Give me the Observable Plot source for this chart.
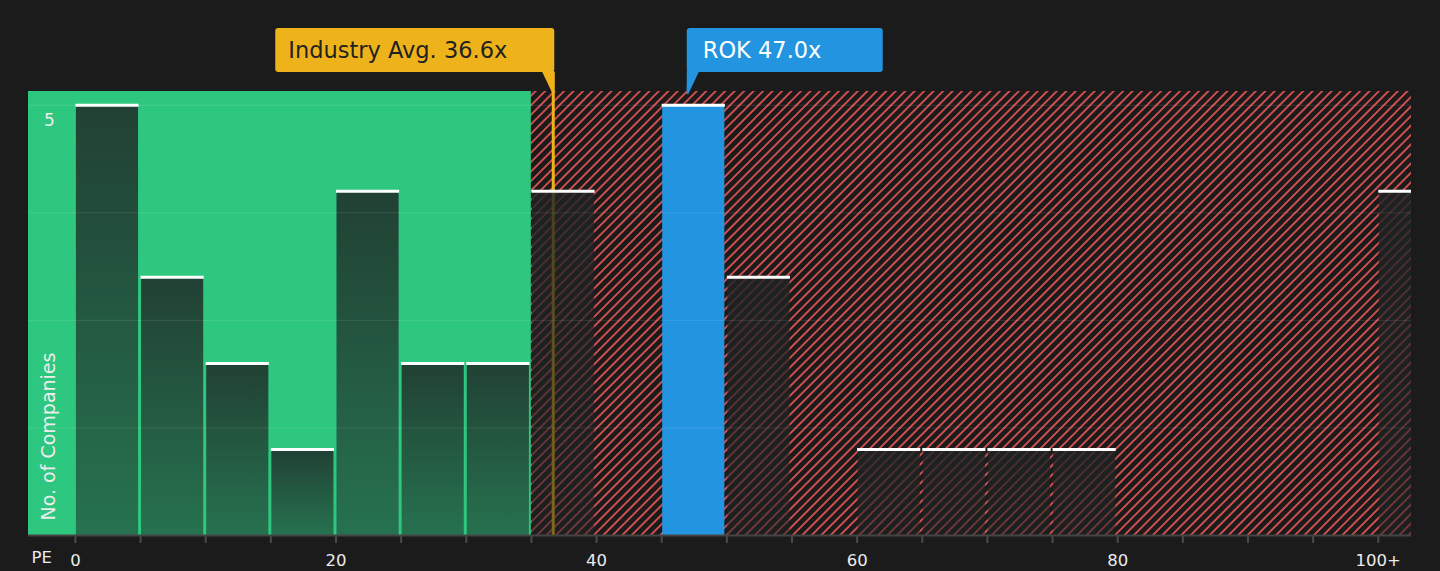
<!DOCTYPE html>
<html><head><meta charset="utf-8">
<script src="https://cdn.jsdelivr.net/npm/d3@7"></script>
<script src="https://cdn.jsdelivr.net/npm/@observablehq/plot@0.6"></script>
<style>
html,body{margin:0;padding:0;background:#1b1b1b;}
#chart{position:relative;width:1440px;height:571px;}
#chart svg [aria-label="x-axis tick"]{stroke:#4a4a4a;stroke-width:2px;}
#chart svg [aria-label="x-axis tick label"]{font-size:16.5px;}
</style></head><body>
<svg width="0" height="0" style="position:absolute">
<defs>
<pattern id="hatch" patternUnits="userSpaceOnUse" width="6.7" height="6.7" patternTransform="rotate(45)">
<rect width="6.7" height="6.7" fill="#1b1b1b"/>
<line x1="1" y1="-1" x2="1" y2="8" stroke="#dc5252" stroke-width="1.8"/>
</pattern>
<linearGradient id="barGrad" x1="0" y1="0" x2="0" y2="1">
<stop offset="0" stop-color="#1e2323" stop-opacity="0.82"/>
<stop offset="1" stop-color="#1e2323" stop-opacity="0.52"/>
</linearGradient>
</defs></svg>
<div id="chart"></div>
<script>
// ---- data ----
const binStart = [0,5,10,15,20,25,30,35,40,45,50,55,60,65,70,75,80,85,90,95,100];
const binCount = [5,3,2,1,4,2,2,4,0,5,3,0,1,1,1,1,0,0,0,0,4];
const binWidth = 5;
const companyName = "ROK";
const companyValue = 47.0;
const industryAvg = 36.6;
const fairBreak = 35;
const xDomain = [-3.6, 102.55];
const yDomain = [0, 5.16];
const gridTicks = [1.25, 2.5, 3.75, 5];
const yLabelTicks = [5];
const xTickValues = [0,5,10,15,20,25,30,35,40,45,50,55,60,65,70,75,80,85,90,95,100];
const xLabelValues = [0,20,40,60,80,100];
const xLabelTexts = ["0","20","40","60","80","100+"];

const green = "#2ec77f", blue = "#2394e0", gold = "#eeb31a";

const bins = binStart.map((s,i)=>({x1:s, x2:s+binWidth, count:binCount[i],
  own: companyValue>=s && companyValue<s+binWidth})).filter(d=>d.count>0);
const ownBin = bins.filter(d=>d.own);
const otherBins = bins.filter(d=>!d.own);
const regions = [{x1:xDomain[0], x2:fairBreak}];
const hatchRegions = [{x1:fairBreak, x2:xDomain[1]}];

const chart = Plot.plot({
  width:1440, height:571,
  marginLeft:28, marginRight:29, marginTop:91, marginBottom:36,
  style:{background:"#1b1b1b", color:"#ececec", fontFamily:"DejaVu Sans", fontSize:"16.5px"},
  x:{domain:xDomain, ticks:xTickValues, tickSize:8, tickPadding:11,
     tickFormat:d=>{const i=xLabelValues.indexOf(d); return i<0?"":xLabelTexts[i];}, label:null},
  y:{domain:yDomain, axis:null},
  marks:[
    Plot.rect(regions,{x1:"x1",x2:"x2",fill:green}),
    Plot.rect(hatchRegions,{x1:"x1",x2:"x2",fill:"url(#hatch)"}),
    Plot.ruleX([industryAvg],{stroke:gold,strokeWidth:3,insetTop:-19,dx:1}),
    Plot.rect(otherBins,{x1:"x1",x2:"x2",y1:0,y2:"count",fill:"url(#barGrad)",insetLeft:1,insetRight:2,clip:true}),
    Plot.rect(ownBin,{x1:"x1",x2:"x2",y1:0,y2:"count",fill:blue,insetLeft:1,insetRight:2,clip:true}),
    Plot.ruleY(gridTicks,{stroke:"#ffffff",strokeOpacity:0.1,strokeWidth:1}),
    Plot.ruleY(bins,{y:"count",x1:"x1",x2:"x2",stroke:"#ffffff",strokeWidth:3,insetLeft:0.5,insetRight:1.5,clip:true}),
    Plot.ruleX([companyValue],{y1:ownBin.length?ownBin[0].count:0,y2:yDomain[1],insetTop:-19,stroke:blue,strokeWidth:2}),
    Plot.ruleY([0],{stroke:"#444",strokeWidth:2}),
    Plot.text(yLabelTicks,{y:d=>d,text:d=>String(d),frameAnchor:"left",textAnchor:"middle",dx:21,dy:15,fill:"#ececec",fontSize:17}),
    Plot.text(["No. of Companies"],{frameAnchor:"bottom-left",text:d=>d,rotate:-90,textAnchor:"start",lineAnchor:"middle",dx:20,dy:-15,fill:"#ececec",fontSize:19}),
    Plot.text(["PE"],{frameAnchor:"bottom-left",text:d=>d,textAnchor:"start",dx:3,dy:27,fill:"#ececec",fontSize:16.5})
  ]
});
document.getElementById("chart").appendChild(chart);

// ---- callouts positioned from the x scale ----
const xs = chart.scale("x");
const svg = d3.select(chart);
const boxTop = 28, boxH = 44, tailLen = 22;
function callout(xv, text, fill, color, side, w){
  const px = xs.apply(xv);
  const g = svg.append("g");
  const bx = side==="left" ? px+2.5-w : px-0.5;
  g.append("rect").attr("x",bx).attr("y",boxTop).attr("width",w).attr("height",boxH).attr("rx",3).attr("fill",fill);
  const yb = boxTop+boxH;
  const pts = side==="left"
    ? [[px-10,yb-1],[px+2.5,yb-1],[px+2.5,yb+tailLen],[px+1,yb+tailLen]]
    : [[px-0.5,yb-1],[px+12,yb-1],[px+1,yb+tailLen],[px-0.5,yb+tailLen]];
  g.append("polygon").attr("points",pts.map(p=>p.join(",")).join(" ")).attr("fill",fill);
  g.append("text").attr("x",side==="left"?bx+13:bx+16).attr("y",boxTop+boxH/2).attr("dy","0.36em")
    .attr("text-anchor","start")
    .attr("fill",color).attr("font-size",22.5).attr("font-family","DejaVu Sans").text(text);
}
callout(industryAvg, "Industry Avg. " + industryAvg.toFixed(1) + "x", gold, "#222222", "left", 279);
callout(companyValue, companyName + " " + companyValue.toFixed(1) + "x", blue, "#ffffff", "right", 196);
</script>
</body></html>
